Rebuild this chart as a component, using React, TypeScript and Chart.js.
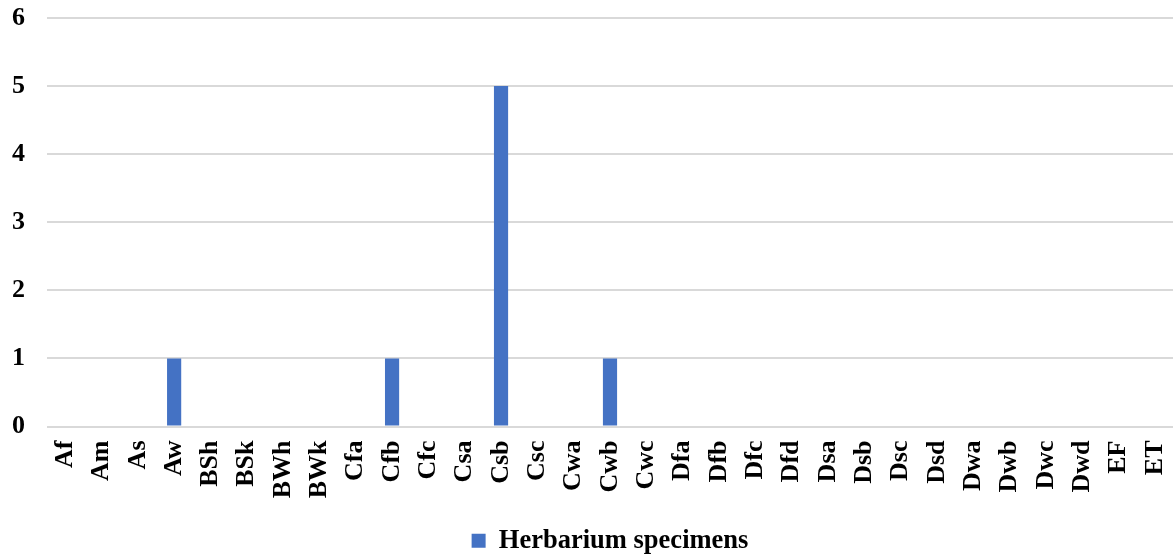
import React, { useEffect, useRef } from "react";
import { Chart, registerables } from "chart.js";

Chart.register(...registerables);

const categories = ["Af","Am","As","Aw","BSh","BSk","BWh","BWk","Cfa","Cfb","Cfc","Csa","Csb","Csc","Cwa","Cwb","Cwc","Dfa","Dfb","Dfc","Dfd","Dsa","Dsb","Dsc","Dsd","Dwa","Dwb","Dwc","Dwd","EF","ET"];
const herbariumSpecimens = [0,0,0,1,0,0,0,0,0,1,0,0,5,0,0,1,0,0,0,0,0,0,0,0,0,0,0,0,0,0,0];
const seriesLabel = "Herbarium specimens";
const yTicks = [0,1,2,3,4,5,6];

export default function App() {
  const ref = useRef<HTMLCanvasElement>(null);
  useEffect(() => {
    if (!ref.current) return;
    const family = "'Liberation Serif', 'Times New Roman', serif";
    const font = { family, weight: "bold" as const, size: 26 };
    const legendFont = { family, weight: "bold" as const, size: 26.5 };
    const chart = new Chart(ref.current, {
      type: "bar",
      data: {
        labels: categories,
        datasets: [{
          label: seriesLabel,
          data: herbariumSpecimens,
          backgroundColor: "#4472C4",
          borderWidth: 0,
          barPercentage: 0.39,
          categoryPercentage: 1,
        }],
      },
      options: {
        animation: false,
        responsive: false,
        maintainAspectRatio: false,
        layout: { padding: { top: 18, right: 0, left: 0, bottom: -5 } },
        plugins: {
          tooltip: { enabled: false },
          legend: {
            position: "bottom",
            fullSize: false,
            labels: { font: legendFont, color: "#000", boxWidth: 14, boxHeight: 14, padding: 0 },
          },
        },
        scales: {
          x: {
            grid: { display: false },
            border: { display: false },
            ticks: { font, color: "#000", minRotation: 90, maxRotation: 90, autoSkip: false, padding: 6 },
            afterFit: (s: any) => { s.height = 101; s.paddingRight = 0; s.paddingLeft = 0; },
          },
          y: {
            min: 0,
            max: 6,
            afterBuildTicks: (s: any) => { s.ticks = yTicks.map((v) => ({ value: v })); },
            grid: { color: "#d9d9d9", lineWidth: 2, drawTicks: false },
            border: { display: false },
            ticks: { font, color: "#000", padding: 22 },
            afterFit: (s: any) => { s.width = 47; s.paddingTop = 0; s.paddingBottom = 0; },
          },
        },
      },
    });
    return () => chart.destroy();
  }, []);
  return (
    <div style={{ position: "fixed", left: 0, top: 0, width: 1173, height: 559, background: "#fff" }}>
      <canvas ref={ref} width={1173} height={559} />
    </div>
  );
}
